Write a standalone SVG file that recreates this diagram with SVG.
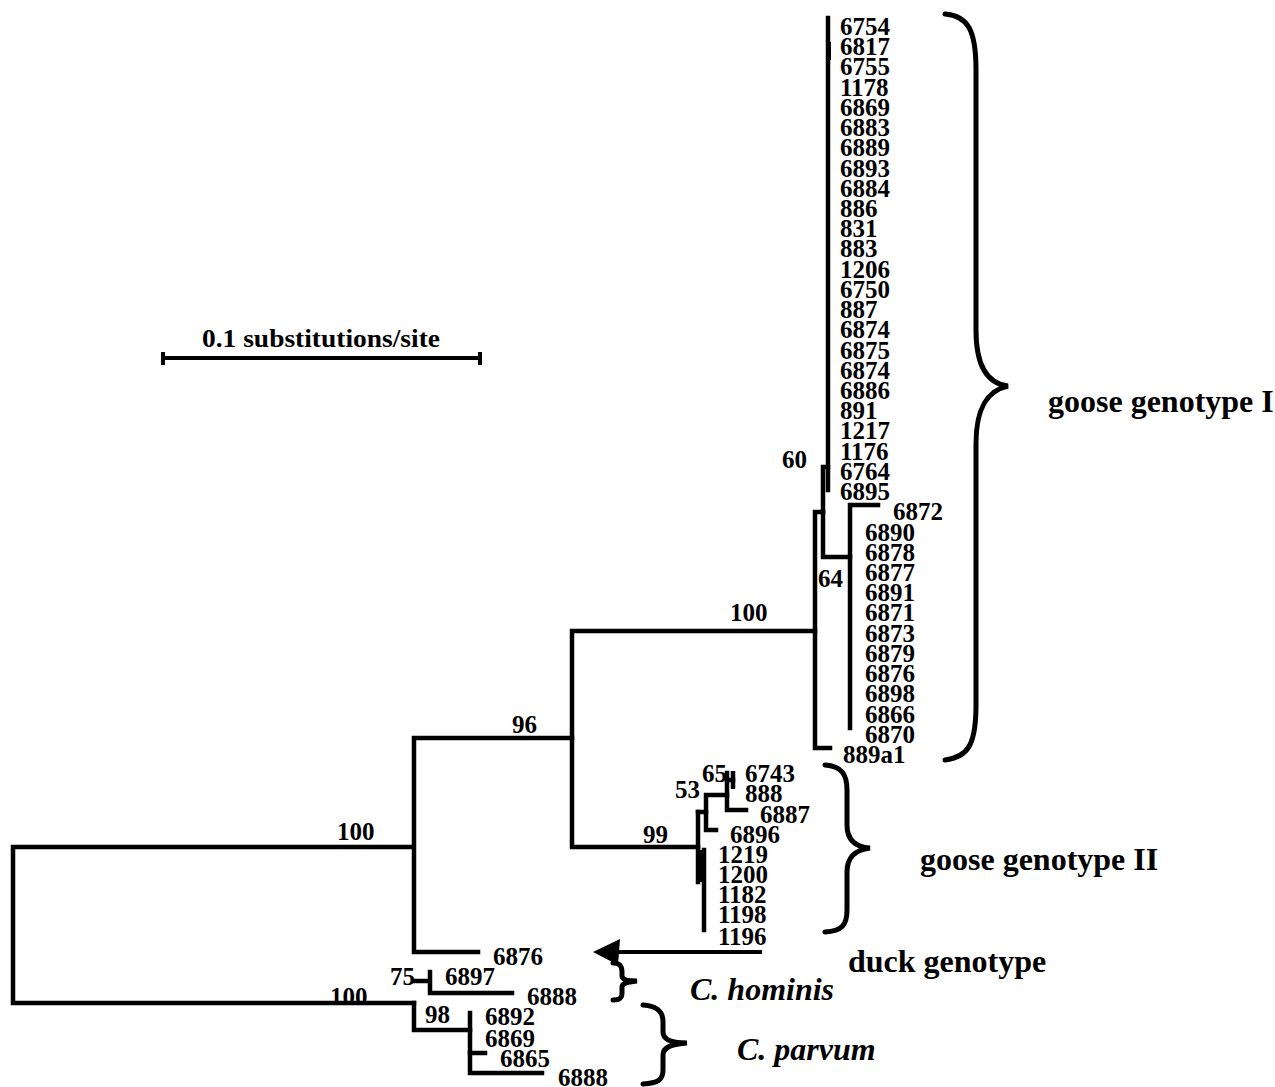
<svg xmlns="http://www.w3.org/2000/svg" width="1275" height="1087" viewBox="0 0 1275 1087">
<style>
.br{fill:none;stroke:#000;stroke-width:4.5;stroke-linecap:square}
.bc{fill:none;stroke:#000;stroke-width:5;stroke-linecap:round}
text{font-family:"Liberation Serif","Times New Roman",serif;font-weight:bold;fill:#000}
.t{font-size:25px}
.b{font-size:25px}
.g{font-size:32px}
.i{font-size:32px;font-style:italic}
</style>
<rect width="1275" height="1087" fill="#fff"/>
<g id="bootstrap">
<text class="b" x="337" y="840">100</text>
<text class="b" x="330" y="1005">100</text>
<text class="b" x="512" y="733">96</text>
<text class="b" x="730" y="621">100</text>
<text class="b" x="782" y="468">60</text>
<text class="b" x="818" y="587">64</text>
<text class="b" x="643" y="843">99</text>
<text class="b" x="675" y="798">53</text>
<text class="b" x="702" y="782">65</text>
<text class="b" x="390" y="985">75</text>
<text class="b" x="425" y="1023">98</text>
</g>
<g id="connectors">
<path class="br" d="M413,847 H13 V1003 H414"/>
<path class="br" d="M478,952 H414 V738 H572"/>
<path class="br" d="M414,1003 V1030 H470"/>
<path class="br" d="M815,631 H572 V847 H698"/>
<path class="br" d="M830,748 H815 V512 H823"/>
<path class="br" d="M828,467 H823 V557 H850"/>
<path class="br" d="M828,18 V490"/>
<path d="M830,42 V60" stroke="#000" stroke-width="2"/>
<path class="br" d="M878,505 H850 V728"/>
<path class="br" d="M698,812 V882"/>
<path class="br" d="M704,850 V930"/>
<rect x="698" y="850" width="7" height="32" fill="#000"/>
<path class="br" d="M698,812 H706"/>
<path class="br" d="M716,830 H706 V795 H727"/>
<path class="br" d="M727,773 V810 H746"/>
<path class="br" d="M727,780 H733"/>
<path d="M733,771 V789" stroke="#000" stroke-width="4.5"/>
<path class="br" d="M414,981 H429"/>
<path class="br" d="M430,972 V993 H512"/>
<path class="br" d="M470,1013 V1073 H542"/>
<path class="br" d="M470,1053 H485"/>
</g>
<g id="tips-goose-I">
<text class="t" x="840" y="35">6754</text>
<text class="t" x="840" y="55.2">6817</text>
<text class="t" x="840" y="75.4">6755</text>
<text class="t" x="840" y="95.7">1178</text>
<text class="t" x="840" y="115.9">6869</text>
<text class="t" x="840" y="136.1">6883</text>
<text class="t" x="840" y="156.3">6889</text>
<text class="t" x="840" y="176.5">6893</text>
<text class="t" x="840" y="196.8">6884</text>
<text class="t" x="840" y="217">886</text>
<text class="t" x="840" y="237.2">831</text>
<text class="t" x="840" y="257.4">883</text>
<text class="t" x="840" y="277.6">1206</text>
<text class="t" x="840" y="297.9">6750</text>
<text class="t" x="840" y="318.1">887</text>
<text class="t" x="840" y="338.3">6874</text>
<text class="t" x="840" y="358.5">6875</text>
<text class="t" x="840" y="378.7">6874</text>
<text class="t" x="840" y="399">6886</text>
<text class="t" x="840" y="419.2">891</text>
<text class="t" x="840" y="439.4">1217</text>
<text class="t" x="840" y="459.6">1176</text>
<text class="t" x="840" y="479.8">6764</text>
<text class="t" x="840" y="500.1">6895</text>
<text class="t" x="893" y="520.3">6872</text>
<text class="t" x="865" y="540.5">6890</text>
<text class="t" x="865" y="560.7">6878</text>
<text class="t" x="865" y="580.9">6877</text>
<text class="t" x="865" y="601.2">6891</text>
<text class="t" x="865" y="621.4">6871</text>
<text class="t" x="865" y="641.6">6873</text>
<text class="t" x="865" y="661.8">6879</text>
<text class="t" x="865" y="682">6876</text>
<text class="t" x="865" y="702.3">6898</text>
<text class="t" x="865" y="722.5">6866</text>
<text class="t" x="865" y="742.7">6870</text>
<text class="t" x="843" y="763">889a1</text>
</g>
<g id="tips-goose-II">
<text class="t" x="745" y="782">6743</text>
<text class="t" x="745" y="802">888</text>
<text class="t" x="760" y="823">6887</text>
<text class="t" x="730" y="843">6896</text>
<text class="t" x="718" y="863">1219</text>
<text class="t" x="718" y="883">1200</text>
<text class="t" x="718" y="903">1182</text>
<text class="t" x="718" y="923">1198</text>
<text class="t" x="718" y="945">1196</text>
</g>
<g id="tips-other">
<text class="t" x="493" y="965">6876</text>
<text class="t" x="445" y="985">6897</text>
<text class="t" x="527" y="1005">6888</text>
<text class="t" x="485" y="1025">6892</text>
<text class="t" x="485" y="1047">6869</text>
<text class="t" x="500" y="1067">6865</text>
<text class="t" x="558" y="1086">6888</text>
</g>
<g id="scale-bar">
<text x="202" y="347" font-size="26" textLength="238" lengthAdjust="spacingAndGlyphs">0.1 substitutions/site</text>
<path d="M163,358 H480" stroke="#000" stroke-width="4"/>
<path d="M163,352 V365 M480,352 V365" stroke="#000" stroke-width="4"/>
</g>
<g id="goose-genotype-I">
<path class="bc" d="M945,14 C968,16 976,30 976,70 L976,330 C976,370 990,384 1008,386 C990,390 976,404 976,444 L976,705 C976,745 968,757 945,760"/>
<text class="g" x="1048" y="412">goose genotype I</text>
</g>
<g id="goose-genotype-II">
<path class="bc" d="M825,765 C842,766 847,775 847,790 L847,825 C847,840 855,847 870,848 C855,850 847,857 847,872 L847,910 C847,925 842,931 825,932"/>
<text class="g" x="920" y="870">goose genotype II</text>
</g>
<g id="duck-genotype">
<path d="M762,952 H615" stroke="#000" stroke-width="4"/>
<polygon points="593,952 620,939 618,965"/>
<text class="g" x="848" y="972">duck genotype</text>
</g>
<g id="c-hominis">
<path class="bc" d="M613,963 C620,963 622,966 622,972 L622,976 C622,980 628,981 637,981 C628,982 622,983 622,987 L622,993 C622,998 620,1000 613,1000"/>
<text class="i" x="690" y="1000">C. hominis</text>
</g>
<g id="c-parvum">
<path class="bc" d="M643,1005 C658,1006 663,1012 663,1022 L663,1032 C663,1040 672,1043 687,1043 C672,1044 663,1047 663,1055 L663,1070 C663,1080 658,1083 643,1084"/>
<text class="i" x="737" y="1060">C. parvum</text>
</g>
</svg>
